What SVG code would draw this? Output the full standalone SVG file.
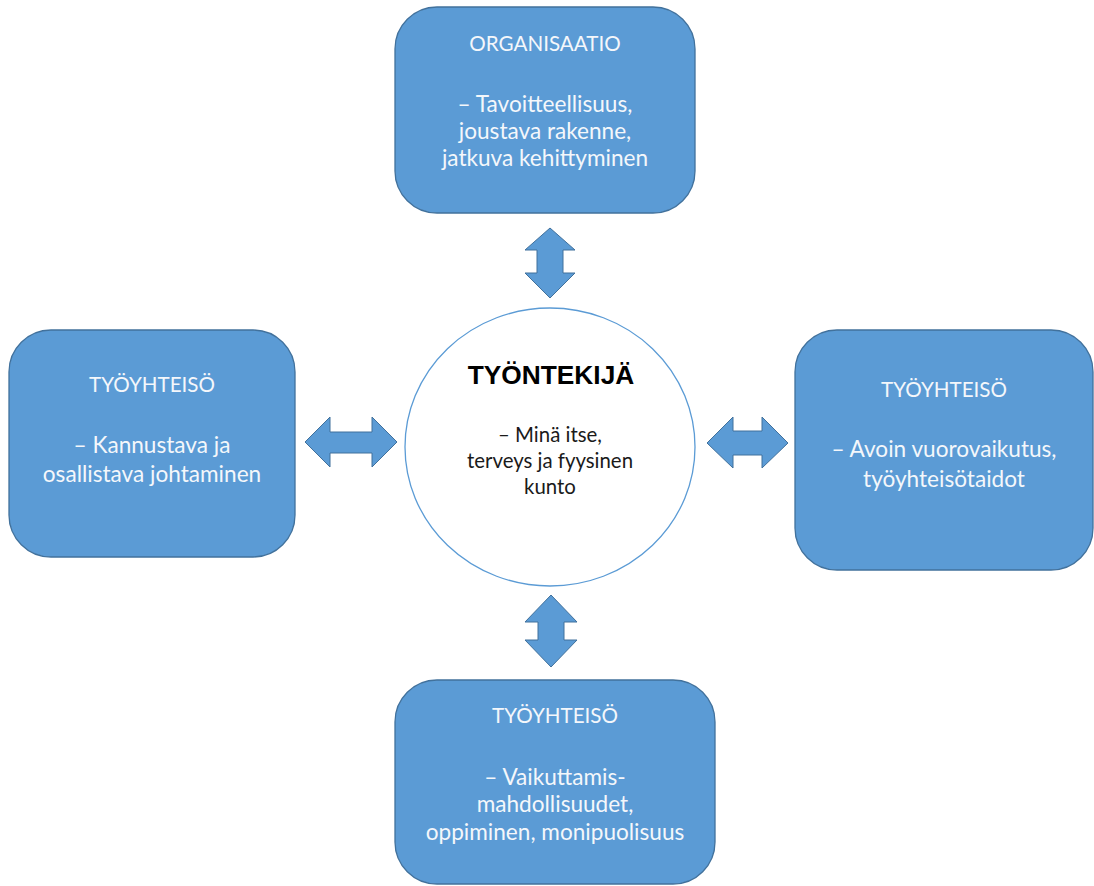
<svg xmlns="http://www.w3.org/2000/svg" width="1094" height="886" viewBox="0 0 1094 886">
<style>
.box{fill:#5B9BD5;stroke:#41719C;stroke-width:1.3}
.arr{fill:#5B9BD5;stroke:#41719C;stroke-width:1}
.t{font-family:Lato,"Open Sans",sans-serif;font-size:22.6px;fill:#F4F7FB;text-anchor:middle}
.tt{font-size:20.6px}
.c{font-family:Lato,"Open Sans",sans-serif;font-size:20.4px;fill:#1a1a1a;text-anchor:middle}
.h{font-family:"Liberation Sans",Arial,sans-serif;font-size:26.3px;font-weight:bold;fill:#000;text-anchor:middle}
</style>
<rect width="1094" height="886" fill="#fff"/>
<g id="connectors">
<path class="arr" d="M550,228 L575,250 L563,250 L563,273 L575,273 L550,298 L525,273 L537,273 L537,250 L525,250 Z"/>
<path class="arr" d="M551,595 L577,622 L564,622 L564,640 L577,640 L551,667 L525,640 L538,640 L538,622 L525,622 Z"/>
<path class="arr" d="M305,442 L330,417 L330,432 L372,432 L372,417 L397,442 L372,467 L372,453 L330,453 L330,467 Z"/>
<path class="arr" d="M707,443 L733,417 L733,431 L762,431 L762,417 L788,443 L762,468 L762,455 L733,455 L733,468 Z"/>
</g>
<g id="organisaatio">
<rect class="box" x="395" y="7" width="300" height="206" rx="42"/>
<text class="t tt" x="545" y="51">ORGANISAATIO</text>
<text class="t" x="545" y="112">– Tavoitteellisuus,</text>
<text class="t" x="545" y="139">joustava rakenne,</text>
<text class="t" x="545" y="166">jatkuva kehittyminen</text>
</g>
<g id="tyontekija">
<ellipse cx="550" cy="447" rx="145" ry="139" fill="#fff" stroke="#5B9BD5" stroke-width="1.3"/>
<text class="h" x="551" y="384">TYÖNTEKIJÄ</text>
<text class="c" x="550" y="442">– Minä itse,</text>
<text class="c" x="550" y="468">terveys ja fyysinen</text>
<text class="c" x="550" y="494">kunto</text>
</g>
<g id="tyoyhteiso-vasen">
<rect class="box" x="9" y="330" width="286" height="227" rx="42"/>
<text class="t tt" x="152" y="392">TYÖYHTEISÖ</text>
<text class="t" x="152" y="453">– Kannustava ja</text>
<text class="t" x="152" y="482">osallistava johtaminen</text>
</g>
<g id="tyoyhteiso-oikea">
<rect class="box" x="795" y="330" width="298" height="240" rx="42"/>
<text class="t tt" x="944" y="397">TYÖYHTEISÖ</text>
<text class="t" x="944" y="457">– Avoin vuorovaikutus,</text>
<text class="t" x="944" y="487">työyhteisötaidot</text>
</g>
<g id="tyoyhteiso-ala">
<rect class="box" x="395" y="680" width="320" height="204" rx="42"/>
<text class="t tt" x="555" y="723">TYÖYHTEISÖ</text>
<text class="t" x="555" y="785">– Vaikuttamis-</text>
<text class="t" x="555" y="812">mahdollisuudet,</text>
<text class="t" x="555" y="840">oppiminen, monipuolisuus</text>
</g>
</svg>
